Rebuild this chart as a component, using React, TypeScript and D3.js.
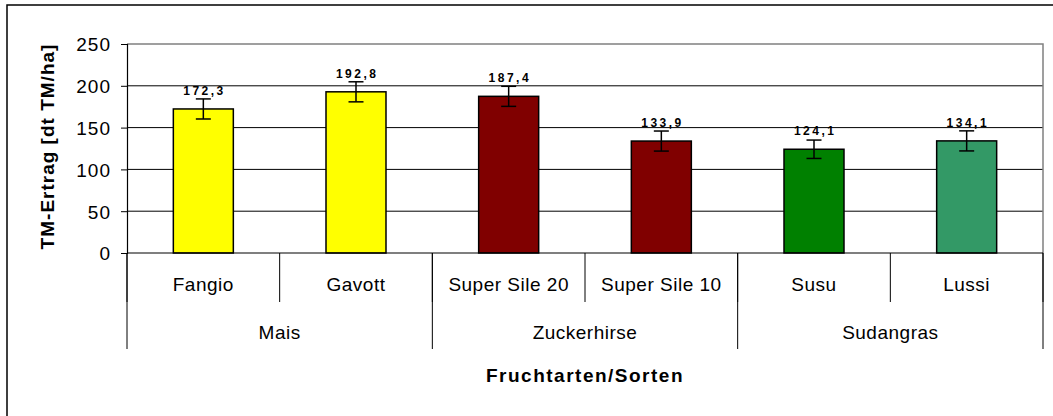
import { useEffect, useRef } from "react";
import * as d3 from "d3";

const sorten = ["Fangio", "Gavott", "Super Sile 20", "Super Sile 10", "Susu", "Lussi"];
const fruchtarten = ["Mais", "Mais", "Zuckerhirse", "Zuckerhirse", "Sudangras", "Sudangras"];
const groups = ["Mais", "Zuckerhirse", "Sudangras"];
const ertrag = [172.3, 192.8, 187.4, 133.9, 124.1, 134.1];
const fehler = [12, 12, 12, 12, 11, 12];
const barColors = ["#ffff00", "#ffff00", "#800000", "#800000", "#008000", "#339966"];
const yTicks = [0, 50, 100, 150, 200, 250];

const W = 1053;
const H = 416;

export default function App() {
  const svgRef = useRef<SVGSVGElement>(null);

  useEffect(() => {
    document.body.style.margin = "0";
    if (!svgRef.current) return;
    const svg = d3.select(svgRef.current);
    svg.selectAll("*").remove();

    const left = 127;
    const right = 1043;
    const top = 44;
    const bottom = 253;
    const font = "'Liberation Sans', Arial, sans-serif";

    const x = d3.scaleBand<string>().domain(sorten).range([left, right]).padding(0);
    const y = d3.scaleLinear().domain([0, 250]).range([bottom, top]);
    const bw = x.bandwidth() * 0.393;

    // outer chart border
    svg.append("rect")
      .attr("x", 7).attr("y", 5)
      .attr("width", W + 20).attr("height", H + 20)
      .attr("fill", "white").attr("stroke", "#000").attr("stroke-width", 1.5);

    // gridlines
    svg.append("g")
      .selectAll("line")
      .data(yTicks.filter((t) => t > 0 && t < 250))
      .join("line")
      .attr("x1", left).attr("x2", right)
      .attr("y1", (d) => y(d)).attr("y2", (d) => y(d))
      .attr("stroke", "#000").attr("stroke-width", 1);

    // plot area border (top/right)
    svg.append("path")
      .attr("d", `M${left},${y(250)}H${right}V${bottom}`)
      .attr("fill", "none").attr("stroke", "#808080").attr("stroke-width", 1.5);

    // y axis
    const yAxis = svg.append("g").attr("transform", `translate(${left},0)`)
      .call(d3.axisLeft(y).tickValues(yTicks).tickSize(6).tickPadding(10));
    yAxis.select(".domain").attr("stroke", "#000").attr("stroke-width", 1.2);
    yAxis.selectAll(".tick line").attr("stroke", "#000");
    yAxis.selectAll("text")
      .attr("font-family", font).attr("font-size", 19)
      .attr("letter-spacing", 1).attr("fill", "#000")
      .attr("dy", "0.36em");

    // bars
    svg.append("g")
      .selectAll("rect")
      .data(ertrag)
      .join("rect")
      .attr("x", (_, i) => x(sorten[i])! + x.bandwidth() / 2 - bw / 2)
      .attr("y", (d) => y(d))
      .attr("width", bw)
      .attr("height", (d) => y(0) - y(d))
      .attr("fill", (_, i) => barColors[i])
      .attr("stroke", "#000").attr("stroke-width", 1.5);

    // error bars
    const eb = svg.append("g").attr("stroke", "#000").attr("stroke-width", 1.5);
    ertrag.forEach((v, i) => {
      const cx = x(sorten[i])! + x.bandwidth() / 2;
      const y1 = y(v + fehler[i]);
      const y2 = y(v - fehler[i]);
      eb.append("line").attr("x1", cx).attr("x2", cx).attr("y1", y1).attr("y2", y2);
      eb.append("line").attr("x1", cx - 7.5).attr("x2", cx + 7.5).attr("y1", y1).attr("y2", y1);
      eb.append("line").attr("x1", cx - 7.5).attr("x2", cx + 7.5).attr("y1", y2).attr("y2", y2);
    });

    // value labels
    svg.append("g")
      .selectAll("text")
      .data(ertrag)
      .join("text")
      .attr("x", (_, i) => x(sorten[i])! + x.bandwidth() / 2 + 1.2)
      .attr("y", (d) => y(d) - 14)
      .attr("text-anchor", "middle")
      .attr("font-family", font).attr("font-size", 12).attr("font-weight", "bold")
      .attr("letter-spacing", 2.5)
      .text((d) => d.toFixed(1).replace(".", ","));

    // x axis baseline
    svg.append("line")
      .attr("x1", left).attr("x2", right)
      .attr("y1", bottom).attr("y2", bottom)
      .attr("stroke", "#000").attr("stroke-width", 1.2);

    // level-1 dividers and labels
    const bounds = [...sorten.map((s) => x(s)!), right];
    svg.append("g")
      .selectAll("line")
      .data(bounds)
      .join("line")
      .attr("x1", (d) => d).attr("x2", (d) => d)
      .attr("y1", bottom).attr("y2", 302)
      .attr("stroke", "#000").attr("stroke-width", 1);

    svg.append("g")
      .selectAll("text")
      .data(sorten)
      .join("text")
      .attr("x", (d) => x(d)! + x.bandwidth() / 2)
      .attr("y", 290.5)
      .attr("text-anchor", "middle")
      .attr("font-family", font).attr("font-size", 19).attr("letter-spacing", 0.5)
      .text((d) => d);

    // level-2 dividers and labels
    const groupSpans = groups.map((g) => {
      const idx = fruchtarten.map((f, i) => (f === g ? i : -1)).filter((i) => i >= 0);
      const x0 = x(sorten[idx[0]])!;
      const x1 = x(sorten[idx[idx.length - 1]])! + x.bandwidth();
      return { g, x0, x1 };
    });
    const groupBounds = [...groupSpans.map((s) => s.x0), right];
    svg.append("g")
      .selectAll("line")
      .data(groupBounds)
      .join("line")
      .attr("x1", (d) => d).attr("x2", (d) => d)
      .attr("y1", bottom).attr("y2", 349)
      .attr("stroke", "#000").attr("stroke-width", 1);

    svg.append("g")
      .selectAll("text")
      .data(groupSpans)
      .join("text")
      .attr("x", (d) => (d.x0 + d.x1) / 2)
      .attr("y", 339)
      .attr("text-anchor", "middle")
      .attr("font-family", font).attr("font-size", 19).attr("letter-spacing", 0.5)
      .text((d) => d.g);

    // axis titles
    svg.append("text")
      .attr("x", (left + right) / 2)
      .attr("y", 381.5)
      .attr("text-anchor", "middle")
      .attr("font-family", font).attr("font-size", 19).attr("font-weight", "bold")
      .attr("letter-spacing", 1.5)
      .text("Fruchtarten/Sorten");

    svg.append("text")
      .attr("transform", `translate(54,${(top + bottom) / 2 - 2}) rotate(-90)`)
      .attr("text-anchor", "middle")
      .attr("font-family", font).attr("font-size", 19).attr("font-weight", "bold")
      .attr("letter-spacing", 1)
      .text("TM-Ertrag [dt TM/ha]");
  }, []);

  return <svg ref={svgRef} width={W} height={H} style={{ display: "block" }} />;
}
